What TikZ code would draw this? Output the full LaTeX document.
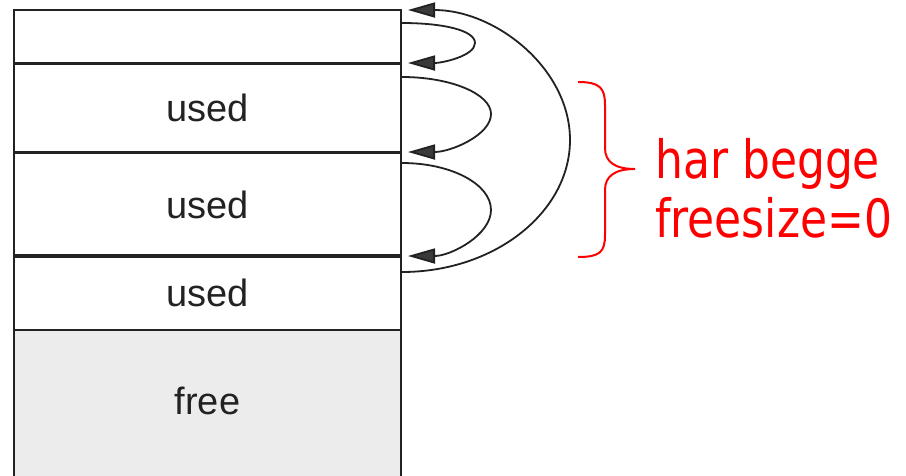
\documentclass[tikz,border=0pt]{standalone}
\usepackage{fontspec}
\setmainfont{Liberation Sans}
\newfontfamily\notefont{DejaVu Sans}
\usetikzlibrary{arrows.meta}
\definecolor{ink}{HTML}{222222}
\definecolor{tipgray}{HTML}{3A3A3A}
\definecolor{freegray}{HTML}{ECECEC}
\definecolor{notered}{HTML}{FF0000}
\begin{document}
\begin{tikzpicture}[x=1pt,y=-1pt,
  block/.style={draw=ink, line width=1.6pt, minimum width=387pt, inner sep=0pt,
    font=\fontsize{38}{40}\selectfont, text=ink},
  sepline/.style={draw=ink, line width=3.2pt},
  link/.style={draw=ink, line width=1.8pt, -{Triangle[length=27pt,width=15pt,fill=tipgray]}},
  brace/.style={draw=notered, line width=2pt},
  note/.style={text=notered, font=\notefont\fontsize{44}{59}\selectfont, align=left, inner sep=0pt},
]
\useasboundingbox (0,0) rectangle (906,475);
\clip (0,0) rectangle (906,475);
\fill[white] (0,0) rectangle (906,475);
% memory blocks
\node[block, minimum height=54pt] (b0) at (207.5,37) {};
\node[block, minimum height=88pt] (b1) at (207.5,108) {used};
\node[block, minimum height=104pt] (b2) at (207.5,205) {used};
\node[block, minimum height=74pt] (b3) at (207.5,293) {used};
\node[block, minimum height=150pt, fill=freegray] (b4) at (207.5,405) {};
\node[font=\fontsize{38}{40}\selectfont, text=ink, inner sep=0pt] (tfree) at (207.5,401) {free};
% thick separators
\draw[sepline] (b1.north west) -- (b1.north east);
\draw[sepline] (b2.north west) -- (b2.north east);
\draw[sepline] (b3.north west) -- (b3.north east);
% link endpoints
\coordinate (s0) at (402,272);
\coordinate (e0) at (408,10);
\coordinate (s1) at (402,23);
\coordinate (e1) at (408,63);
\coordinate (s2) at (402,77);
\coordinate (e2) at (408,152);
\coordinate (s3) at (402,163);
\coordinate (e3) at (408,256);
% links
\draw[link] (s0) .. controls (495,272) and (570,212) .. (570,140) .. controls (570,68) and (495,10) .. (e0);
\draw[link] (s1) .. controls (442,23) and (475,30) .. (475,43) .. controls (475,56) and (442,63) .. (e1);
\draw[link] (s2) .. controls (451,77) and (491,94) .. (491,114) .. controls (491,135) and (451,152) .. (e2);
\draw[link] (s3) .. controls (451,163) and (491,184) .. (491,210) .. controls (491,235) and (451,256) .. (e3);
% red brace
\draw[brace] (578,82) .. controls (600,82) and (605,88) .. (605,105) -- (605,148)
  .. controls (605,162) and (615,169) .. (635,169)
  .. controls (615,169) and (605,176) .. (605,190) -- (605,235)
  .. controls (605,252) and (600,257) .. (578,257);
\node[note, anchor=north west] (txt) at (655,138) {\scalebox{1}[1.2]{har begge}\\\scalebox{1}[1.2]{freesize=0}};
\end{tikzpicture}
\end{document}
